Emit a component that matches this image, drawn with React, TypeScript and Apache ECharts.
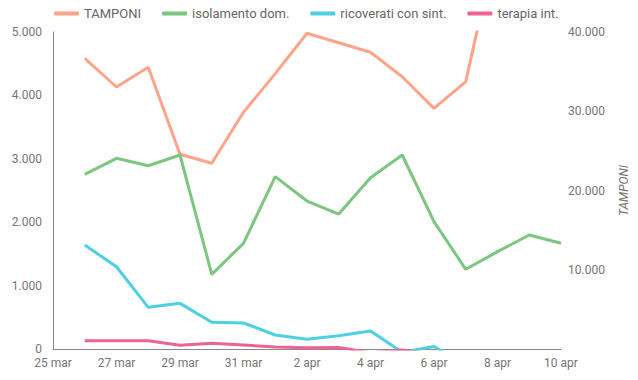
import React, { useEffect, useRef } from "react";
import * as echarts from "echarts";

const dates = [
  "25 mar", "26 mar", "27 mar", "28 mar", "29 mar", "30 mar", "31 mar",
  "1 apr", "2 apr", "3 apr", "4 apr", "5 apr", "6 apr", "7 apr", "8 apr", "9 apr", "10 apr",
];

const tamponi = [null, 36680, 33060, 35550, 24570, 23430, 29870, 34750, 39840, 38640, 37440, 34360, 30370, 33730, 51700, 46000, 53000];
const isolamento = [null, 2755, 3008, 2891, 3060, 1178, 1667, 2718, 2334, 2129, 2702, 3060, 2008, 1257, 1535, 1798, 1667];
const ricoverati = [null, 1640, 1298, 657, 720, 421, 410, 221, 153, 210, 284, -50, 40, -258, -233, -86, -157];
const terapia = [null, 131, 130, 130, 58, 90, 63, 30, 20, 25, -60, -17, -79, -106, -99, -88, -108];

const fmt = (v: number) => String(v).replace(/\B(?=(\d{3})+(?!\d))/g, ".");

export default function App() {
  const ref = useRef<HTMLDivElement>(null);
  useEffect(() => {
    if (!ref.current) return;
    const chart = echarts.init(ref.current, null, { renderer: "svg" });
    const labelColor = "#757575";
    const font = "Roboto";
    chart.setOption({
      animation: false,
      textStyle: { fontFamily: font },
      legend: {
        top: 2,
        left: 49,
        itemGap: 21,
        itemWidth: 25,
        itemHeight: 4,
        icon: "roundRect",
        textStyle: { color: "#666", fontSize: 13, fontFamily: font },
        data: ["TAMPONI", "isolamento dom.", "ricoverati con sint.", "terapia int."],
      },
      grid: { left: 53, right: 75, top: 32, bottom: 31, containLabel: false },
      xAxis: {
        type: "category",
        data: dates,
        boundaryGap: false,
        axisLine: { lineStyle: { color: "#888", width: 1 } },
        axisTick: { show: false },
        axisLabel: { interval: 1, color: labelColor, fontSize: 12, margin: 8 },
        splitLine: { show: false },
      },
      yAxis: [
        {
          type: "value",
          min: 0,
          max: 5000,
          interval: 1000,
          axisLine: { show: true, lineStyle: { color: "#888", width: 1 } },
          axisTick: { show: false },
          splitLine: { show: false },
          axisLabel: { color: labelColor, fontSize: 12, margin: 11, formatter: (v: number) => fmt(v) },
        },
        {
          type: "value",
          min: 0,
          max: 40000,
          interval: 10000,
          position: "right",
          name: "TAMPONI",
          nameLocation: "middle",
          nameGap: 57,
          nameRotate: 90,
          nameTextStyle: { color: labelColor, fontSize: 12, fontStyle: "italic" },
          axisLine: { show: false },
          axisTick: { show: false },
          splitLine: { show: false },
          axisLabel: {
            color: labelColor,
            fontSize: 12,
            margin: 7,
            formatter: (v: number) => (v === 0 ? "" : fmt(v)),
          },
        },
      ],
      series: [
        {
          name: "TAMPONI",
          type: "line",
          yAxisIndex: 1,
          data: tamponi,
          symbol: "none",
          color: "#FFA48A",
          lineStyle: { width: 3 },
          clip: true,
        },
        {
          name: "isolamento dom.",
          type: "line",
          data: isolamento,
          symbol: "none",
          color: "#7DC67F",
          lineStyle: { width: 3 },
          clip: true,
        },
        {
          name: "ricoverati con sint.",
          type: "line",
          data: ricoverati,
          symbol: "none",
          color: "#4DD0E1",
          lineStyle: { width: 3 },
          clip: true,
        },
        {
          name: "terapia int.",
          type: "line",
          data: terapia,
          symbol: "none",
          color: "#F06292",
          lineStyle: { width: 3 },
          clip: true,
        },
      ],
    });
    return () => chart.dispose();
  }, []);
  return <div ref={ref} style={{ width: 638, height: 380, position: "absolute", left: 0, top: 0 }} />;
}
